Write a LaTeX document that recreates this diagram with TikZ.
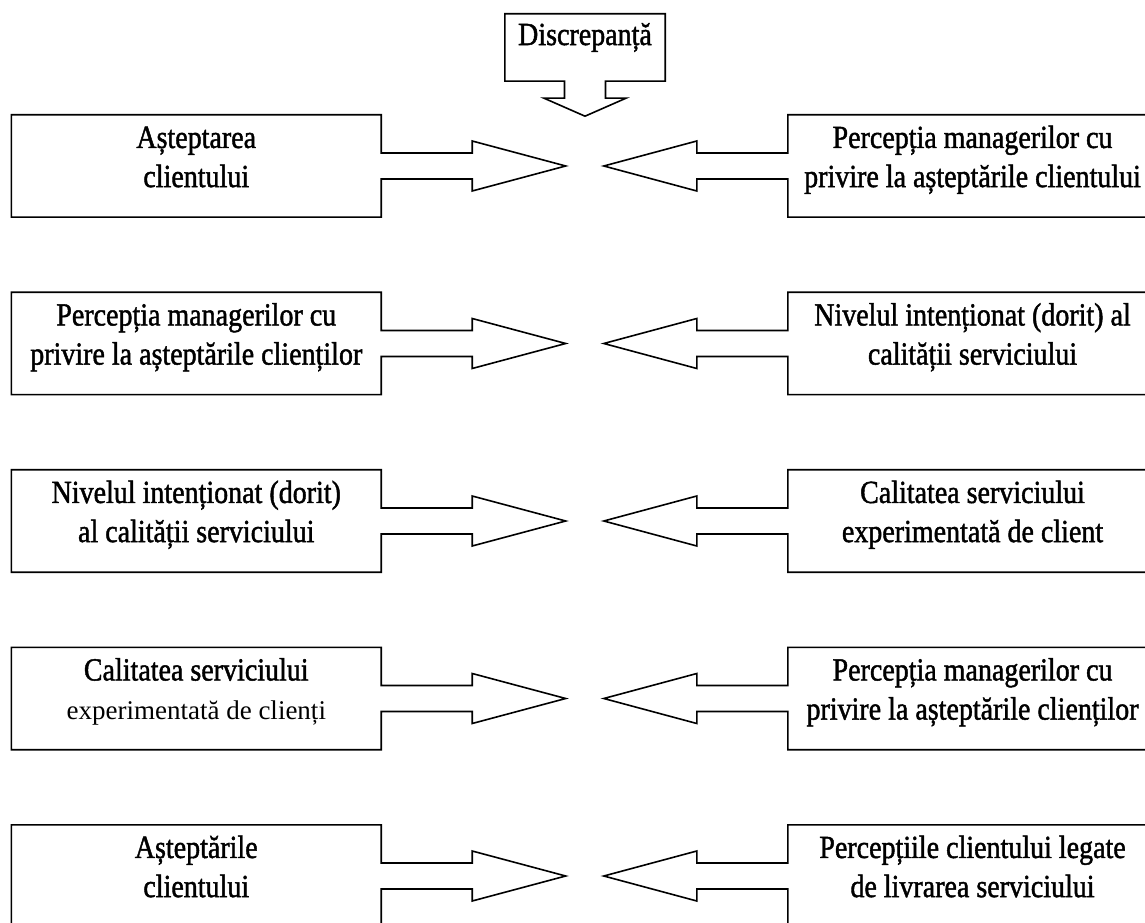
\documentclass[tikz,border=0pt]{standalone}
\usepackage{fontspec}
\setmainfont{Liberation Serif}
\newfontfamily\heavyserif{Liberation Serif}[FakeBold=1.5]
\usepackage{graphicx}
\usetikzlibrary{calc}

% two-line caption set tall and narrow
\newcommand{\boxlines}[1]{\scalebox{1}[1.15]{\heavyserif\fontsize{28}{34}\selectfont\begin{tabular}{@{}c@{}}#1\end{tabular}}}
% lighter line of normal proportions inside a caption
\newcommand{\plainline}[1]{\scalebox{1}[0.87]{\rmfamily\fontsize{27}{30}\selectfont #1}}

\tikzset{
  x=1pt, y=1pt,
  frame/.style={line width=1.6pt, line join=miter},
  holder/.style={rectangle, inner sep=0pt, minimum height=102pt},
  leftbox/.style={holder, minimum width=369.5pt},
  rightbox/.style={holder, minimum width=369pt},
}

\begin{document}
\begin{tikzpicture}
\useasboundingbox[fill=white] (0,0) rectangle (1145,922);

% heading box
\node[holder, minimum width=160pt, minimum height=67pt,
      label={[name=Dtext, yshift=10.3pt]center:\boxlines{Discrepanță}}] (D) at (585,874.5) {};

% left column
\node[leftbox, label={[name=L1text, yshift=6.3pt]center:\boxlines{Așteptarea\\clientului}}] (L1) at (196.25,756) {};
\node[leftbox, label={[name=L2text, yshift=6.3pt]center:\boxlines{Percepția managerilor cu\\privire la așteptările clienților}}] (L2) at (196.25,578.5) {};
\node[leftbox, label={[name=L3text, yshift=6.3pt]center:\boxlines{Nivelul intenționat (dorit)\\al calității serviciului}}] (L3) at (196.25,401) {};
\node[leftbox, label={[name=L4text, yshift=6.3pt]center:\boxlines{Calitatea serviciului\\\plainline{experimentată de clienți}}}] (L4) at (196.25,223.5) {};
\node[leftbox, label={[name=L5text, yshift=6.3pt]center:\boxlines{Așteptările\\clientului}}] (L5) at (196.25,46) {};

% right column
\node[rightbox, label={[name=R1text, yshift=6.3pt]center:\boxlines{Percepția managerilor cu\\privire la așteptările clientului}}] (R1) at (972.5,756) {};
\node[rightbox, label={[name=R2text, yshift=6.3pt]center:\boxlines{Nivelul intenționat (dorit) al\\calității serviciului}}] (R2) at (972.5,578.5) {};
\node[rightbox, label={[name=R3text, yshift=6.3pt]center:\boxlines{Calitatea serviciului\\experimentată de client}}] (R3) at (972.5,401) {};
\node[rightbox, label={[name=R4text, yshift=6.3pt]center:\boxlines{Percepția managerilor cu\\privire la așteptările clienților}}] (R4) at (972.5,223.5) {};
\node[rightbox, label={[name=R5text, yshift=6.3pt]center:\boxlines{Percepțiile clientului legate\\de livrarea serviciului}}] (R5) at (972.5,46) {};

% heading box merged with its downward block arrow
\coordinate (DT) at ($(D.south)+(0,-35)$);
\draw[frame] ($(D.south)+(-20.5,0)$) -- (D.south west) -- (D.north west) -- (D.north east)
  -- (D.south east) -- ($(D.south)+(20.5,0)$) -- ($(D.south)+(20.5,-17)$)
  -- ($(D.south)+(41,-17)$) -- (DT) -- ($(D.south)+(-41,-17)$)
  -- ($(D.south)+(-20.5,-17)$) -- cycle;

% left boxes with block arrows pointing right
\foreach \i in {1,...,5}{
  \coordinate (LT\i) at ($(L\i.east)+(184.5,0)$);
  \draw[frame] ($(L\i.east)+(0,13)$) -- (L\i.north east) -- (L\i.north west)
    -- (L\i.south west) -- (L\i.south east) -- ($(L\i.east)+(0,-13)$)
    -- ($(L\i.east)+(91,-13)$) -- ($(L\i.east)+(91,-25)$) -- (LT\i)
    -- ($(L\i.east)+(91,25)$) -- ($(L\i.east)+(91,13)$) -- cycle;
}

% right boxes with block arrows pointing left
\foreach \i in {1,...,5}{
  \coordinate (RT\i) at ($(R\i.west)+(-184,0)$);
  \draw[frame] ($(R\i.west)+(0,13)$) -- (R\i.north west) -- (R\i.north east)
    -- (R\i.south east) -- (R\i.south west) -- ($(R\i.west)+(0,-13)$)
    -- ($(R\i.west)+(-91,-13)$) -- ($(R\i.west)+(-91,-25)$) -- (RT\i)
    -- ($(R\i.west)+(-91,25)$) -- ($(R\i.west)+(-91,13)$) -- cycle;
}
\end{tikzpicture}
\end{document}
